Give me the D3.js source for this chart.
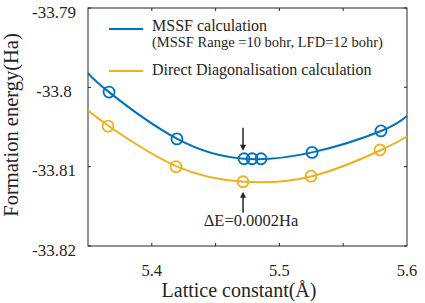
<!DOCTYPE html>
<html>
<head>
<meta charset="utf-8">
<script src="https://cdn.jsdelivr.net/npm/d3@7"></script>
<style>
  body { margin: 0; background: #fff; }
  svg text { font-family: "Liberation Serif", "Times New Roman", serif; fill: #262626; }
</style>
</head>
<body>
<script>
const width = 425;
const height = 303;

// measured points
const mssfX = [5.3665, 5.4197, 5.4723, 5.4786, 5.4856, 5.5256, 5.5796];
const mssfY = [-33.8006, -33.8065, -33.8090, -33.8090, -33.8090, -33.8082, -33.8055];
const directX = [5.3657, 5.4190, 5.4715, 5.5248, 5.5788];
const directY = [-33.8049, -33.8100, -33.8119, -33.8112, -33.8079];

// fitted curves
const fitX = [5.35, 5.3665, 5.42, 5.4723, 5.5256, 5.5796, 5.6];
const mssfFit = [-33.7982, -33.8006, -33.8065, -33.8090, -33.8082, -33.8055, -33.8036];
const directFit = [-33.8029, -33.8049, -33.8100, -33.8119, -33.8112, -33.8079, -33.8062];

const xTicks = [5.4, 5.45, 5.5, 5.55];
const xLabels = [5.4, 5.5, 5.6];
const yTicks = [-33.79, -33.8, -33.81, -33.82];

const blue = "#0072BD";
const orange = "#EDB120";

const margin = {top: 8, right: 18, bottom: 57, left: 88};

const svg = d3.select("body")
  .append("svg")
  .attr("width", width)
  .attr("height", height);

const x = d3.scaleLinear().domain([5.35, 5.6]).range([margin.left, width - margin.right]);
const y = d3.scaleLinear().domain([-33.82, -33.79]).range([height - margin.bottom, margin.top]);

// ticks, inward on all four sides
var axisG = svg.append("g").attr("stroke", "#262626").attr("stroke-width", 1);
axisG.selectAll(".xt").data(xTicks).enter().append("line")
  .attr("x1", d => x(d)).attr("x2", d => x(d))
  .attr("y1", y.range()[0]).attr("y2", y.range()[0] - 3);
axisG.selectAll(".xtt").data(xTicks).enter().append("line")
  .attr("x1", d => x(d)).attr("x2", d => x(d))
  .attr("y1", y.range()[1]).attr("y2", y.range()[1] + 3);
axisG.selectAll(".yt").data(yTicks).enter().append("line")
  .attr("x1", x.range()[0]).attr("x2", x.range()[0] + 3)
  .attr("y1", d => y(d)).attr("y2", d => y(d));
axisG.selectAll(".ytr").data(yTicks).enter().append("line")
  .attr("x1", x.range()[1]).attr("x2", x.range()[1] - 3)
  .attr("y1", d => y(d)).attr("y2", d => y(d));

axisG.append("rect")
  .attr("x", x.range()[0]).attr("y", y.range()[1])
  .attr("width", x.range()[1] - x.range()[0])
  .attr("height", y.range()[0] - y.range()[1])
  .attr("fill", "none");

svg.selectAll(".ylab").data(yTicks).enter().append("text")
  .attr("x", 54).attr("y", d => y(d) + 9.5)
  .attr("text-anchor", "middle")
  .style("font-size", "17px")
  .text(d => String(d));

svg.selectAll(".xlab").data(xLabels).enter().append("text")
  .attr("x", d => x(d)).attr("y", 276)
  .attr("text-anchor", "middle")
  .style("font-size", "16.5px")
  .text(d => d3.format(".1f")(d));

svg.append("text")
  .attr("x", 239).attr("y", 297)
  .attr("text-anchor", "middle")
  .style("font-size", "20px")
  .text("Lattice constant(Å)");

svg.append("text")
  .attr("transform", "translate(18,125) rotate(-90)")
  .attr("text-anchor", "middle")
  .style("font-size", "20.5px")
  .text("Formation energy(Ha)");

// curves
var line = d3.line().curve(d3.curveNatural);
svg.append("path")
  .attr("d", line(fitX.map((v, i) => [x(v), y(mssfFit[i])])))
  .attr("fill", "none").attr("stroke", blue).attr("stroke-width", 2);
svg.append("path")
  .attr("d", line(fitX.map((v, i) => [x(v), y(directFit[i])])))
  .attr("fill", "none").attr("stroke", orange).attr("stroke-width", 2);

// markers
svg.selectAll(".m1").data(mssfX).enter().append("circle")
  .attr("cx", d => x(d)).attr("cy", (d, i) => y(mssfY[i])).attr("r", 5.5)
  .attr("fill", "none").attr("stroke", blue).attr("stroke-width", 1.8);
svg.selectAll(".m2").data(directX).enter().append("circle")
  .attr("cx", d => x(d)).attr("cy", (d, i) => y(directY[i])).attr("r", 5.5)
  .attr("fill", "none").attr("stroke", orange).attr("stroke-width", 1.8);

// arrows at the minimum
var ax = x(directX[2]);
var topTip = y(mssfY[2]) - 8;
var botTip = y(directY[2]) + 10;
svg.append("line").attr("x1", ax).attr("x2", ax).attr("y1", topTip - 23).attr("y2", topTip - 5)
  .attr("stroke", "#222").attr("stroke-width", 1.5);
svg.append("path").attr("d", `M${ax - 3},${topTip - 6}L${ax + 3},${topTip - 6}L${ax},${topTip}Z`).attr("fill", "#222");
svg.append("line").attr("x1", ax).attr("x2", ax).attr("y1", botTip + 5).attr("y2", botTip + 21)
  .attr("stroke", "#222").attr("stroke-width", 1.5);
svg.append("path").attr("d", `M${ax - 3},${botTip + 6}L${ax + 3},${botTip + 6}L${ax},${botTip}Z`).attr("fill", "#222");

svg.append("text")
  .attr("x", 251).attr("y", 226)
  .attr("text-anchor", "middle")
  .style("font-size", "16.5px")
  .text("ΔE=0.0002Ha");

// legend
var legend = svg.append("g");
legend.append("line").attr("x1", 109).attr("x2", 143).attr("y1", 29).attr("y2", 29)
  .attr("stroke", blue).attr("stroke-width", 2);
legend.append("text").attr("x", 152).attr("y", 31).style("font-size", "16px").text("MSSF calculation");
legend.append("text").attr("x", 152).attr("y", 47).style("font-size", "14.5px").text("(MSSF Range =10 bohr, LFD=12 bohr)");
legend.append("line").attr("x1", 109).attr("x2", 143).attr("y1", 71).attr("y2", 71)
  .attr("stroke", orange).attr("stroke-width", 2);
legend.append("text").attr("x", 152).attr("y", 75).style("font-size", "16px").text("Direct Diagonalisation calculation");
</script>
</body>
</html>
